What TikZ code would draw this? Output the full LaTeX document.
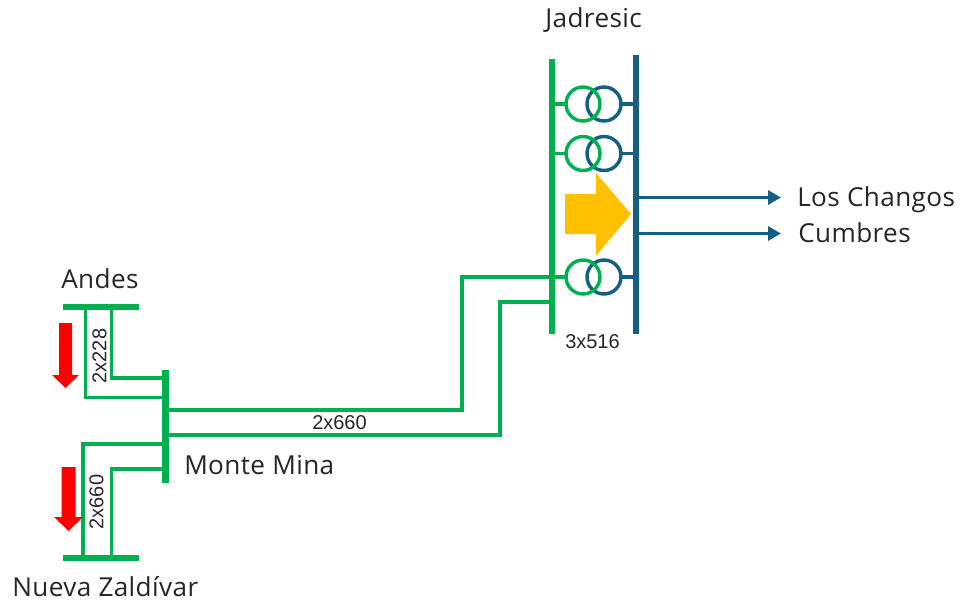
\documentclass[tikz,border=0pt]{standalone}
\usepackage{fontspec}
\setmainfont{Open Sans}[LetterSpace=1.5]
\newfontfamily\smallfont{Liberation Sans}
\usetikzlibrary{arrows.meta,calc}
\definecolor{grn}{HTML}{00B050}
\definecolor{blu}{HTML}{156082}
\definecolor{amb}{HTML}{FFC000}
\begin{document}
\begin{tikzpicture}[x=0.75pt,y=-0.75pt,
  gbus/.style={draw=none,fill=grn,inner sep=0pt,outer sep=0pt},
  bbus/.style={draw=none,fill=blu,inner sep=0pt,outer sep=0pt},
  gline/.style={draw=grn,line width=2.6pt,line join=miter},
  bline/.style={draw=blu,line width=2.6pt},
  gcirc/.style={circle,draw=grn,line width=2.6pt,minimum size=25.5pt,inner sep=0pt,outer sep=0pt},
  bcirc/.style={circle,draw=blu,line width=2.6pt,minimum size=25.5pt,inner sep=0pt,outer sep=0pt},
  flowarrow/.style={-{Triangle[length=9.75pt,width=10.5pt]},draw=blu,line width=2.6pt},
  lbl/.style={font=\fontsize{19.6pt}{22pt}\selectfont,text=black!85,inner sep=0pt,anchor=base west},
  small/.style={font=\smallfont\fontsize{15pt}{17pt}\selectfont,text=black!85,inner sep=0pt},
]
\useasboundingbox (0,0) rectangle (961,603);

% buses
\node[gbus,minimum width=4.6pt,minimum height=206.25pt] (jg) at (552,196.5) {};
\node[bbus,minimum width=4.6pt,minimum height=209.25pt] (jb) at (636,194.5) {};
\node[gbus,minimum width=4.6pt,minimum height=84.75pt] (mm) at (165.5,426.5) {};
\node[gbus,minimum width=57pt,minimum height=4.6pt] (an) at (101,307) {};
\node[gbus,minimum width=57pt,minimum height=4.6pt] (nz) at (101,558) {};

% transformers
\foreach \n/\y in {a/104,b/153.5,c/277}{
  \node[bcirc] (b\n) at (604,\y) {};
  \node[gcirc] (g\n) at (583,\y) {};
  \draw[gline] (g\n.west) -- (g\n.west -| jg.center);
  \draw[bline] (b\n.east) -- (b\n.east -| jb.center);
}

% amber arrow
\fill[amb] (565,194) -- (596,194) -- (596,173) -- (631,214) -- (596,256) -- (596,234) -- (565,234) -- cycle;

% outgoing
\coordinate (lc) at (781,197.5);
\coordinate (cu) at (781,233.5);
\draw[flowarrow] (lc -| jb.center) -- (lc);
\draw[flowarrow] (cu -| jb.center) -- (cu);

% 2x660 lines
\coordinate (j1) at (552,277);
\coordinate (j2) at (552,302);
\coordinate (m1) at (165.5,410);
\coordinate (m2) at (165.5,435);
\draw[gline] (j1) -- (462,277) -- (462,410) -- (m1);
\draw[gline] (j2) -- (500,302) -- (500,435) -- (m2);

% Andes
\draw[gline] (85.5,307) -- (85.5,397.5) -- (165.5,397.5);
\draw[gline] (111.5,307) -- (111.5,378) -- (165.5,378);
% Nueva Zaldivar
\draw[gline] (165.5,444) -- (83,444) -- (83,558);
\draw[gline] (165.5,469) -- (111.5,469) -- (111.5,558);

% red arrows
\fill[red] (59,323) -- (72,323) -- (72,375) -- (79,375) -- (65.5,388) -- (52,375) -- (59,375) -- cycle;
\fill[red] (61.5,467) -- (75.5,467) -- (75.5,517) -- (83,517) -- (68.5,531) -- (54,517) -- (61.5,517) -- cycle;

% labels
\node[lbl] (tj) at (545,27) {Jadresic};
\node[lbl] (tl) at (797,206) {Los Changos};
\node[lbl] (tc) at (798,242) {Cumbres};
\node[lbl] (tm) at (184,474) {Monte Mina};
\node[lbl] (ta) at (61,288) {Andes};
\node[lbl] (tn) at (12,596) {Nueva Zaldívar};
\node[small] (l1) at (592.5,342) {3x516};
\node[small] (l2) at (339.5,423) {2x660};
\node[small,rotate=90] (l3) at (99.5,356) {2x228};
\node[small,rotate=90] (l4) at (96.5,502) {2x660};
\end{tikzpicture}
\end{document}
